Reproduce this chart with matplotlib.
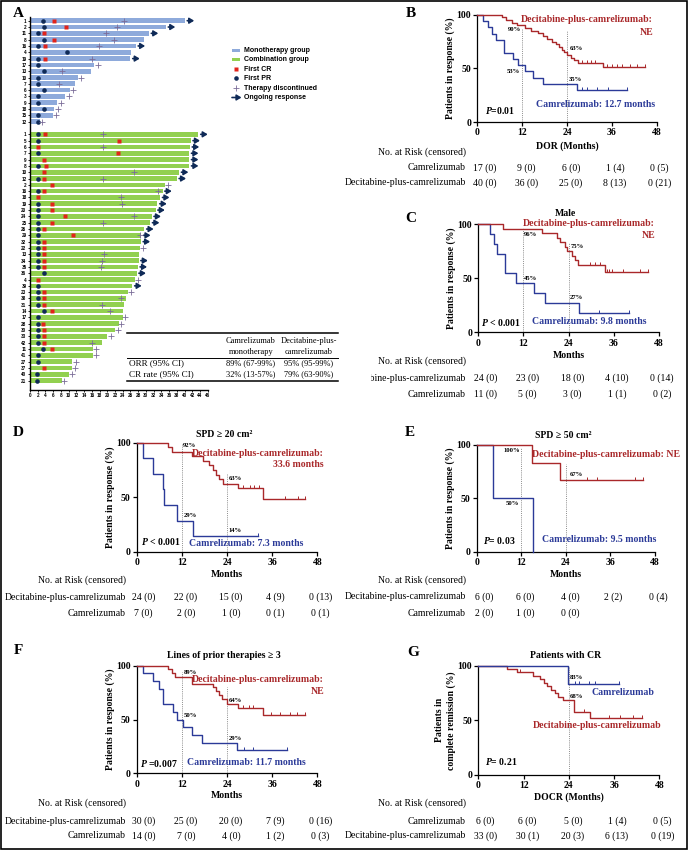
import numpy as np
import matplotlib
matplotlib.use("Agg")
import matplotlib.pyplot as plt
from matplotlib.patches import Rectangle
from matplotlib.transforms import Bbox, TransformedBbox

W, H = 688, 850
plt.rcParams['font.family'] = ['Liberation Serif', 'DejaVu Serif']
plt.rcParams['mathtext.fontset'] = 'custom'
plt.rcParams['mathtext.it'] = 'Liberation Serif:italic:bold'
plt.rcParams['mathtext.rm'] = 'Liberation Serif:bold'
SANS = ['Liberation Sans', 'DejaVu Sans']

RED = '#a9282a'
BLUE = '#2b3a98'
NAVY = '#0f2a57'
MONO_COL = '#8eaadb'
COMBO_COL = '#92d050'
CR_COL = '#e2231a'
PLUS_COL = '#7b6d99'
nan = np.nan

# ---------------- panel A : swimmer data ----------------
mono_ids = ['1', '2', '11', '8', '16', '4', '19', '17', '13', '10', '7', '6', '3', '9', '18', '15', '12']
mono_dur = [40.1, 35.2, 30.8, 29.5, 27.4, 26.1, 26.0, 16.6, 15.8, 12.3, 11.6, 10.4, 9.1, 7.0, 6.2, 6.0, 2.6]
mono_pr = [3.4, 3.7, 2.0, 3.7, 2.0, 9.6, 2.0, 2.0, 3.7, 2.0, 2.0, 3.7, 2.0, 2.0, 3.7, 2.0, 2.0]
mono_cr = [6.2, 9.3, 3.7, 6.2, 3.9, nan, 3.8, nan, nan, nan, nan, nan, nan, nan, nan, nan, nan]
mono_stop = [24.3, 22.6, 19.7, 21.8, 17.9, nan, 16.1, 17.5, 8.2, 13.2, 7.5, 11.2, 10.0, 7.9, 7.2, 6.7, 3.1]
mono_ongoing = [1, 1, 1, 0, 1, 0, 1, 0, 0, 0, 0, 0, 0, 0, 0, 0, 0]

combo_ids = ['1', '5', '6', '7', '9', '8', '10', '12', '2', '16', '18', '19', '20', '24', '25', '26', '29', '32',
             '22', '13', '34', '35', '36', '4', '39', '23', '38', '31', '14', '17', '28', '30', '33', '42', '11',
             '41', '27', '37', '40', '21']
combo_dur = [43.6, 41.6, 41.4, 41.2, 41.2, 41.2, 38.6, 38.0, 34.9, 34.3, 33.7, 33.0, 32.5, 31.5, 31.1, 29.6, 28.8,
             28.7, 28.6, 28.3, 28.1, 27.9, 27.6, 27.2, 26.5, 25.4, 24.8, 24.3, 24.2, 24.1, 23.0, 22.0, 20.0, 18.6,
             16.4, 16.3, 11.0, 10.9, 10.1, 8.2]
combo_pr = [2.0, 2.0, nan, 2.0, nan, 2.0, nan, 2.0, nan, 2.0, nan, 2.2, 2.2, 2.2, 2.2, 2.2, 2.2, 2.0,
            2.0, 2.2, 2.0, 2.0, 3.7, nan, 2.0, 2.0, 2.0, 2.0, 3.7, 2.0, 2.0, 2.0, 2.0, 2.0, 3.4,
            2.0, 2.0, nan, 1.7, 1.7]
combo_cr = [3.8, 23.0, 2.0, 22.7, 3.7, 4.1, 3.7, 3.7, 5.6, 3.7, 2.2, 5.6, 5.6, 9.1, 5.6, 3.7, 11.1, 3.7,
            3.7, 3.7, 3.7, 3.7, nan, 2.2, nan, 3.7, 3.7, 3.7, 5.6, nan, 3.4, 3.7, 3.7, 3.7, 5.6,
            nan, nan, 3.7, nan, nan]
combo_stop = [18.8, nan, 18.8, nan, nan, nan, 26.9, 19.0, 35.6, 33.2, 23.6, 23.8, nan, 27.0, 18.8, nan, 28.5, nan,
              29.3, 19.2, 18.6, 18.3, nan, 27.9, nan, 26.2, 23.6, 18.6, 20.8, 24.7, 23.6, 22.7, 20.9, 16.0,
              17.0, 17.0, 11.9, 11.7, 10.9, 8.9]
combo_ongoing = [1, 1, 1, 1, 1, 1, 1, 1, 0, 1, 1, 1, 1, 1, 1, 1, 1, 1,
                 0, 0, 1, 1, 1, 0, 1, 0, 0, 0, 0, 0, 0, 0, 0, 0, 0, 0, 0, 0, 0, 0]

table_cols = ['Camrelizumab\nmonotherapy', 'Decitabine-plus-\ncamrelizumab']
table_rows = ['ORR (95% CI)', 'CR rate (95% CI)']
table_vals = [['89% (67-99%)', '95% (95-99%)'], ['32% (13-57%)', '79% (63-90%)']]

# ---------------- KM data (time in months, % in response) ----------------
b_cam_t = [0, 1.4, 2.9, 4.0, 4.9, 7.2, 9.6, 11.0, 12.8, 15.0, 17.5, 26.6, 40.0]
b_cam_s = [100, 94.1, 88.2, 82.4, 76.5, 64.7, 58.8, 52.9, 47.1, 41.2, 35.3, 29.4, 29.4]
b_cam_ct = [27.9, 29.3, 31.9, 35.1, 40.0]
b_cam_cs = [29.4] * 5
b_dec_t = [0, 6.5, 7.8, 9.2, 10.5, 12.8, 14.5, 16.3, 17.7, 18.7, 19.9, 21.0, 21.9, 22.6, 23.2, 24.0,
           25.0, 26.0, 27.0, 33.7, 44.9]
b_dec_s = [100, 97.5, 95, 92.5, 90, 87.5, 85, 82.5, 80, 77.5, 75, 72.5, 70, 67.5, 65, 62.5,
           60, 57.5, 55, 50.9, 50.9]
b_dec_ct = [27.9, 29.3, 30.4, 31.5, 34.6, 36.0, 37.3, 38.6, 40.9, 42.6, 44.9]
b_dec_cs = [55] * 4 + [50.9] * 7

c_dec_t = [0, 6.6, 16.8, 20.8, 21.7, 23.0, 23.6, 24.8, 25.7, 26.6, 33.7, 45.0]
c_dec_s = [100, 95.8, 91.7, 87.5, 83.3, 79.2, 75.0, 70.8, 66.7, 62.5, 55.6, 55.6]
c_dec_ct = [29.7, 31.0, 32.3, 34.1, 34.8, 35.4, 38.5, 43.0, 45.0]
c_dec_cs = [62.5] * 3 + [55.6] * 6
c_cam_t = [0, 3.1, 4.3, 5.1, 7.1, 9.9, 14.8, 17.8, 26.8, 40.1]
c_cam_s = [100, 90.9, 81.8, 72.7, 54.5, 45.5, 36.4, 27.3, 18.2, 18.2]
c_cam_ct = [32.1, 40.1]
c_cam_cs = [18.2, 18.2]

d_dec_t = [0, 8.4, 9.3, 14.6, 17.6, 19.3, 20.3, 21.0, 21.8, 22.9, 27.0, 33.7, 44.7]
d_dec_s = [100, 95.8, 91.7, 87.5, 83.3, 79.2, 75.0, 70.8, 66.7, 62.5, 58.3, 48.6, 48.6]
d_dec_ct = [28.3, 30.1, 31.1, 32.5, 39.4, 42.8, 44.7]
d_dec_cs = [58.3] * 4 + [48.6] * 3
d_cam_t = [0, 1.6, 4.2, 7.1, 7.3, 10.6, 14.9, 32.2]
d_cam_s = [100, 85.7, 71.4, 57.1, 42.9, 28.6, 14.3, 14.3]
d_cam_ct = [32.2]
d_cam_cs = [14.3]

e_dec_t = [0, 14.8, 22.4, 44.8]
e_dec_s = [100, 83.3, 66.7, 66.7]
e_dec_ct = [29.6, 32.3, 42.6, 44.8]
e_dec_cs = [66.7] * 4
e_cam_t = [0, 4.3, 15.1]
e_cam_s = [100, 50, 0]

f_dec_t = [0, 8.4, 9.3, 10.2, 14.6, 20.2, 21.0, 21.8, 22.8, 23.9, 27.0, 33.7, 44.7]
f_dec_s = [100, 96.7, 93.3, 89.3, 83.3, 80.0, 76.3, 72.5, 68.8, 64.5, 60.6, 54.5, 54.5]
f_dec_ct = [28.3, 29.9, 30.8, 35.6, 38.1, 40.7, 42.5, 44.7]
f_dec_cs = [60.6] * 3 + [54.5] * 5
f_cam_t = [0, 1.6, 4.4, 5.9, 7.1, 9.7, 10.6, 12.4, 14.6, 17.3, 26.6, 40.0]
f_cam_s = [100, 92.9, 85.7, 78.6, 64.3, 57.1, 50.0, 42.9, 35.7, 28.6, 21.4, 21.4]
f_cam_ct = [28.6, 31.0, 40.0]
f_cam_cs = [21.4] * 3

g_cam_t = [0, 23.9, 37.2]
g_cam_s = [100, 83.3, 83.3]
g_cam_ct = [25.6, 26.8, 29.4, 30.9, 37.2]
g_cam_cs = [83.3] * 5
g_dec_t = [0, 7.5, 10.2, 14.6, 16.4, 17.4, 18.3, 19.2, 20.3, 21.2, 22.4, 25.5, 29.6, 43.3]
g_dec_s = [100, 97.0, 93.9, 90.8, 87.6, 84.4, 81.3, 78.1, 75.0, 71.6, 68.3, 57.8, 52.5, 52.5]
g_dec_ct = [11.0, 28.1, 34.7, 37.6, 41.1, 43.3]
g_dec_cs = [93.9, 57.8, 52.5, 52.5, 52.5, 52.5]

risk_b = [('Camrelizumab', ['17 (0)', '9 (0)', '6 (0)', '1 (4)', '0 (5)']),
          ('Decitabine-plus-camrelizumab', ['40 (0)', '36 (0)', '25 (0)', '8 (13)', '0 (21)'])]
risk_c = [('Decitabine-plus-camrelizumab', ['24 (0)', '23 (0)', '18 (0)', '4 (10)', '0 (14)']),
          ('Camrelizumab', ['11 (0)', '5 (0)', '3 (0)', '1 (1)', '0 (2)'])]
risk_d = [('Decitabine-plus-camrelizumab', ['24 (0)', '22 (0)', '15 (0)', '4 (9)', '0 (13)']),
          ('Camrelizumab', ['7 (0)', '2 (0)', '1 (0)', '0 (1)', '0 (1)'])]
risk_e = [('Decitabine-plus-camrelizumab', ['6 (0)', '6 (0)', '4 (0)', '2 (2)', '0 (4)']),
          ('Camrelizumab', ['2 (0)', '1 (0)', '0 (0)'])]
risk_f = [('Decitabine-plus-camrelizumab', ['30 (0)', '25 (0)', '20 (0)', '7 (9)', '0 (16)']),
          ('Camrelizumab', ['14 (0)', '7 (0)', '4 (0)', '1 (2)', '0 (3)'])]
risk_g = [('Camrelizumab', ['6 (0)', '6 (0)', '5 (0)', '1 (4)', '0 (5)']),
          ('Decitabine-plus-camrelizumab', ['33 (0)', '30 (1)', '20 (3)', '6 (13)', '0 (19)'])]
risk_months = [0, 12, 24, 36, 48]

fig = plt.figure(figsize=(W / 100, H / 100), dpi=100)


def px_axes(x0, x1, yt, yb):
    return fig.add_axes([x0 / W, 1 - yb / H, (x1 - x0) / W, (yb - yt) / H])


# ---------------- panel A ----------------
axA = px_axes(30, 207.7, 17.3, 390)
groups = [(np.arange(17), mono_dur, mono_pr, mono_cr, mono_stop, mono_ongoing, MONO_COL),
          (np.arange(40) + 18, combo_dur, combo_pr, combo_cr, combo_stop, combo_ongoing, COMBO_COL)]
for ys, dur, pr, cr, stop, ong, col in groups:
    axA.barh(ys, dur, height=0.74, color=col, zorder=1)
    axA.plot(pr, ys, 'o', color=NAVY, ms=3.3, mec='none', zorder=3)
    axA.plot(cr, ys, 's', color=CR_COL, ms=2.7, mec='none', zorder=3)
    axA.plot(stop, ys, '+', color=PLUS_COL, ms=3.8, mew=0.6, zorder=4)
    for y, d, o in zip(ys, dur, ong):
        if o:
            axA.annotate('', xy=(d + 2.4, y), xytext=(d + 0.6, y),
                         arrowprops=dict(arrowstyle='-|>,head_length=0.9,head_width=0.55', color=NAVY,
                                         lw=1.2, shrinkA=0, shrinkB=0, mutation_scale=3))
axA.set_xlim(0, 46)
axA.set_ylim(58.5, -0.54)
axA.set_xticks(np.arange(0, 47, 2))
axA.set_yticks(list(np.arange(17)) + list(np.arange(40) + 18))
axA.set_yticklabels(mono_ids + combo_ids)
axA.tick_params(length=1.5, width=0.6, labelsize=3.3, pad=1)
for lab in axA.get_xticklabels() + axA.get_yticklabels():
    lab.set_fontweight('bold')
    lab.set_family(SANS)
for sp in ['top', 'right']:
    axA.spines[sp].set_visible(False)
for sp in ['left', 'bottom']:
    axA.spines[sp].set_linewidth(1.0)
axA.patch.set_alpha(0)


# ---------------- KM panels ----------------
def draw_km(box, curves, dotted):
    ax = px_axes(*box)
    for xv, top in dotted:
        ax.plot([xv, xv], [0, top], ls=(0, (1, 1.2)), color='#8c8c8c', lw=0.7, zorder=1)
    for t, s, ct, cs, col in curves:
        ax.step(t, s, where='post', color=col, lw=1.0, clip_on=False, zorder=3)
        if ct:
            ax.plot(ct, cs, ls='none', marker=[(0, 0), (0, 1)], ms=5, mew=0.7, color=col,
                    clip_on=False, zorder=3)
    ax.set_xlim(0, 48)
    ax.set_ylim(0, 100)
    ax.set_xticks([0, 12, 24, 36, 48])
    ax.set_yticks([0, 50, 100])
    ax.tick_params(direction='out', length=3, width=0.9, labelsize=7, pad=1.5)
    for lab in ax.get_xticklabels() + ax.get_yticklabels():
        lab.set_fontweight('bold')
    for sp in ['top', 'right']:
        ax.spines[sp].set_visible(False)
    for sp in ['left', 'bottom']:
        ax.spines[sp].set_linewidth(0.9)
    ax.patch.set_alpha(0)
    return ax


box_b = (477.3, 656.7, 14.7, 122)
box_c = (478.3, 659, 224, 332.3)
box_d = (136.7, 317.3, 442.7, 551.7)
box_e = (476.7, 655, 444.7, 551.7)
box_f = (136.7, 317.3, 665.7, 773.3)
box_g = (478.3, 659.3, 665.7, 775)

draw_km(box_b, [(b_cam_t, b_cam_s, b_cam_ct, b_cam_cs, BLUE), (b_dec_t, b_dec_s, b_dec_ct, b_dec_cs, RED)],
        [(12, 88), (24, 85)])
draw_km(box_c, [(c_cam_t, c_cam_s, c_cam_ct, c_cam_cs, BLUE), (c_dec_t, c_dec_s, c_dec_ct, c_dec_cs, RED)],
        [(12, 96), (24, 82)])
draw_km(box_d, [(d_cam_t, d_cam_s, d_cam_ct, d_cam_cs, BLUE), (d_dec_t, d_dec_s, d_dec_ct, d_dec_cs, RED)],
        [(12, 100), (24, 72)])
draw_km(box_e, [(e_cam_t, e_cam_s, [], [], BLUE), (e_dec_t, e_dec_s, e_dec_ct, e_dec_cs, RED)],
        [(12, 97), (24, 82)])
draw_km(box_f, [(f_cam_t, f_cam_s, f_cam_ct, f_cam_cs, BLUE), (f_dec_t, f_dec_s, f_dec_ct, f_dec_cs, RED)],
        [(12, 94), (24, 80)])
draw_km(box_g, [(g_dec_t, g_dec_s, g_dec_ct, g_dec_cs, RED), (g_cam_t, g_cam_s, g_cam_ct, g_cam_cs, BLUE)],
        [(24, 100)])

# ---------------- overlay (pixel coordinates) ----------------
ov = fig.add_axes([0, 0, 1, 1])
ov.set_xlim(0, W)
ov.set_ylim(H, 0)
ov.axis('off')


def txt(x, y, s, size=7, color='black', ha='center', weight='bold', **kw):
    return ov.text(x, y, s, fontsize=size, color=color, ha=ha, va='center', fontweight=weight, **kw)


ov.add_patch(Rectangle((1, 1), W - 2.5, H - 2.5, fill=False, lw=1.2, ec='black'))

# panel letters
for letter, x, y in [('A', 18, 13), ('B', 411, 13), ('C', 411, 218), ('D', 18, 432),
                     ('E', 410, 432), ('F', 18, 650), ('G', 413, 653)]:
    txt(x, y, letter, size=11)

# legend of A
leg_y = [50, 59.5, 69, 78, 88, 97.5]
leg_lab = ['Monotherapy group', 'Combination group', 'First CR', 'First PR', 'Therapy discontinued',
           'Ongoing response']
ov.add_patch(Rectangle((231.5, leg_y[0] - 1.5), 8.5, 3, color=MONO_COL, lw=0))
ov.add_patch(Rectangle((231.5, leg_y[1] - 1.5), 8.5, 3, color=COMBO_COL, lw=0))
ov.plot([236], [leg_y[2]], 's', color=CR_COL, ms=2.7, mec='none')
ov.plot([236], [leg_y[3]], 'o', color=NAVY, ms=3.3, mec='none')
ov.plot([236], [leg_y[4]], '+', color=PLUS_COL, ms=3.8, mew=0.6)
ov.annotate('', xy=(241.5, leg_y[5]), xytext=(232, leg_y[5]),
            arrowprops=dict(arrowstyle='-|>,head_length=0.9,head_width=0.55', color=NAVY,
                            lw=1.2, shrinkA=0, shrinkB=0, mutation_scale=3))
for y, s in zip(leg_y, leg_lab):
    txt(243.5, y, s, size=5, ha='left', family=SANS)

# table of A
ov.plot([127, 338], [333, 333], color='black', lw=1.1)
ov.plot([127, 338], [358, 358], color='black', lw=0.7)
ov.plot([127, 338], [381, 381], color='black', lw=1.1)
col_x = [251, 309]
for cx, head in zip(col_x, table_cols):
    l1, l2 = head.split('\n')
    txt(cx, 341, l1, size=6.0, weight='normal')
    txt(cx, 352, l2, size=6.0, weight='normal')
for ry, rlab, vals in zip([363.5, 374.5], table_rows, table_vals):
    txt(129, ry, rlab, size=6.6, ha='left', weight='normal')
    for cx, v in zip(col_x, vals):
        txt(cx, ry, v, size=6.0, weight='normal')


# axis labels, titles and annotations of KM panels
def km_texts(box, xlabel, xlab_y, ylab, title=None, title_y=None):
    x0, x1, yt, yb = box
    txt((x0 + x1) / 2, xlab_y, xlabel)
    if '\n' in ylab:
        a, b = ylab.split('\n')
        txt(x0 - 38.5, (yt + yb) / 2, a, rotation=90)
        txt(x0 - 27, (yt + yb) / 2, b, rotation=90)
    else:
        txt(x0 - 27, (yt + yb) / 2, ylab, rotation=90)
    if title:
        txt((x0 + x1) / 2 - 3, title_y, title)


def risk_table(box, label_right, ys, rows, clip_left=None):
    x0, x1, yt, yb = box
    sc = (x1 - x0) / 48
    offs = [7, 4, 4, 3, 3]
    txt(label_right, ys[0], 'No. at Risk (censored)', ha='right', weight='normal')
    for y, (name, vals) in zip(ys[1:], rows):
        t = txt(label_right, y, name, ha='right', weight='normal')
        if clip_left is not None:
            t.set_clip_box(TransformedBbox(Bbox([[clip_left, 0], [W, H]]), ov.transData))
            t.set_clip_on(True)
        for m, off, v in zip(risk_months, offs, vals):
            txt(x0 + m * sc + off, y, v, weight='normal')


yl = 'Patients in response (%)'
km_texts(box_b, 'DOR (Months)', 145.7, yl)
km_texts(box_c, 'Months', 355, yl, 'Male', 213)
km_texts(box_d, 'Months', 574.3, yl, 'SPD ≥ 20 cm²', 434)
km_texts(box_e, 'Months', 574.3, yl, 'SPD ≥ 50 cm²', 435)
km_texts(box_f, 'Months', 795.7, yl, 'Lines of prior therapies ≥ 3', 655.7)
km_texts(box_g, 'DOCR (Months)', 796.7, 'Patients in\ncomplete remission (%)', 'Patients with CR', 655.7)

risk_table(box_b, 466, [151.7, 167.7, 182.7], risk_b)
risk_table(box_c, 466, [360.7, 378.3, 394.3], risk_c, clip_left=371)
risk_table(box_d, 126, [580, 597.3, 613.3], risk_d)
risk_table(box_e, 466, [580, 596.7, 613.3], risk_e)
risk_table(box_f, 126, [803.3, 821, 836], risk_f)
risk_table(box_g, 466, [803.3, 821, 836], risk_g)

PCT = 4.8
# B
txt(514, 29, '90%', size=PCT); txt(576, 48, '63%', size=PCT)
txt(513, 71, '53%', size=PCT); txt(575.7, 79, '35%', size=PCT)
txt(653, 19, 'Decitabine-plus-camrelizumab:', color=RED, ha='right')
txt(653, 32.3, 'NE', color=RED, ha='right')
txt(595.7, 104.3, 'Camrelizumab: 12.7 months', color=BLUE)
txt(500, 110, r'$P$=0.01')
# C
txt(530, 234.3, '96%', size=PCT); txt(577.3, 246.7, '75%', size=PCT)
txt(531, 278.3, '45%', size=PCT); txt(576.7, 297.7, '27%', size=PCT)
txt(655, 223.3, 'Decitabine-plus-camrelizumab:', color=RED, ha='right')
txt(655, 235, 'NE', color=RED, ha='right')
txt(588.8, 321, 'Camrelizumab: 9.8 months', color=BLUE)
txt(500.5, 322.3, r'$P$ < 0.001')
# D
txt(189.3, 445, '92%', size=PCT); txt(235, 478.3, '63%', size=PCT)
txt(190.7, 515.7, '29%', size=PCT); txt(235, 530.7, '14%', size=PCT)
txt(324, 453.3, 'Decitabine-plus-camrelizumab:', color=RED, ha='right')
txt(324, 464, '33.6 months', color=RED, ha='right')
txt(246.3, 543.3, 'Camrelizumab: 7.3 months', color=BLUE)
txt(161.3, 541.7, r'$P$ < 0.001')
# E
txt(511.7, 450, '100%', size=PCT); txt(576, 474.3, '67%', size=PCT)
txt(512.7, 503.3, '50%', size=PCT)
txt(606, 454, 'Decitabine-plus-camrelizumab: NE', color=RED)
txt(598.7, 539.3, 'Camrelizumab: 9.5 months', color=BLUE)
txt(499, 540, r'$P$= 0.03')
# F
txt(190, 672.3, '89%', size=PCT); txt(235, 700, '64%', size=PCT)
txt(190, 715.7, '50%', size=PCT); txt(235, 738.3, '29%', size=PCT)
txt(324, 679, 'Decitabine-plus-camrelizumab:', color=RED, ha='right')
txt(324, 691, 'NE', color=RED, ha='right')
txt(246.7, 762.3, 'Camrelizumab: 11.7 months', color=BLUE)
txt(159, 763.3, r'$P$ =0.007')
# G
txt(576, 677.7, '83%', size=PCT); txt(576, 696.7, '68%', size=PCT)
txt(622.5, 692.3, 'Camrelizumab', color=BLUE)
txt(596.7, 726, 'Decitabine-plus-camrelizumab', color=RED)
txt(500.8, 761.7, r'$P$= 0.21')

fig.savefig('out.png', dpi=100)
